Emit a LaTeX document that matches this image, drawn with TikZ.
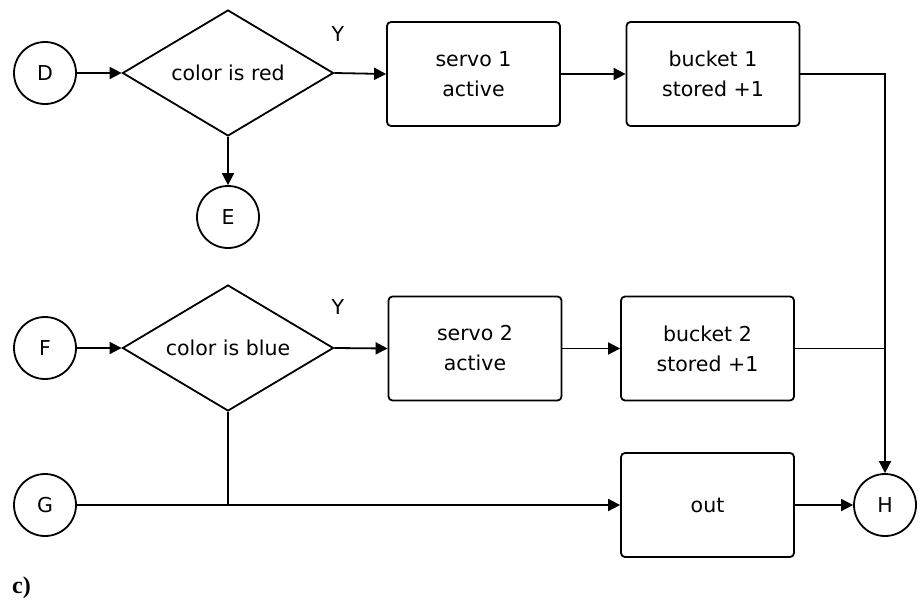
\documentclass[tikz,border=0pt]{standalone}
\usepackage{fontspec}
\setmainfont{DejaVu Sans}
\newfontfamily\capfont{Liberation Serif}
\usetikzlibrary{shapes.geometric,arrows.meta}
\tikzset{
  every picture/.style={line width=1.8pt},
  lab/.style={font=\fontsize{20.5}{30}\selectfont, align=center},
  term/.style={circle, draw, lab, minimum size=62pt, inner sep=0pt},
  decision/.style={diamond, draw, lab, aspect=1.67, inner sep=0pt,
                   minimum width=211pt, minimum height=126pt},
  stepbox/.style={rectangle, rounded corners=4pt, draw, lab, inner sep=0pt,
                  minimum width=173pt, minimum height=104pt},
  flow/.style={-{Triangle[length=12pt,width=12pt]}},
}
\begin{document}
\begin{tikzpicture}[x=1pt, y=-1pt]
  \useasboundingbox (0,0) rectangle (920,602);

  % first row: red check
  \node[term] (D) at (45,73) {D};
  \node[decision] (red) at (228,73) {color is red};
  \node[stepbox] (servoA) at (473.5,74) {servo 1\\active};
  \node[stepbox] (bucketA) at (713,74) {bucket 1\\stored +1};
  \node[term] (E) at (228,217) {E};
  \node[lab] (yA) at (338,34) {Y};

  % second row: blue check
  \node[term] (F) at (45,348) {F};
  \node[decision] (blue) at (228,348) {color is blue};
  \node[stepbox] (servoB) at (475,348.5) {servo 2\\active};
  \node[stepbox] (bucketB) at (707.5,348.5) {bucket 2\\stored +1};
  \node[lab] (yB) at (338,307) {Y};

  % third row: everything else
  \node[term] (G) at (45,505) {G};
  \node[stepbox] (out) at (707.5,505) {out};
  \node[term] (H) at (885,505) {H};

  \node[font=\capfont\bfseries\fontsize{24}{26}\selectfont, anchor=west] (cap) at (8,588) {c)};

  % connectors
  \draw[flow] (D) -- (red.west);
  \draw[flow] (red.east) -- (servoA.west);
  \draw[flow] (servoA) -- (bucketA);
  \draw[flow] (red.south) -- (E.north);
  \draw[flow] (bucketA.east) -| (H.north);

  \draw[flow] (F) -- (blue.west);
  \draw[flow] (blue.east) -- (servoB.west);
  \draw[flow] (servoB) -- (bucketB);
  \draw (bucketB.east) -- (H.north |- bucketB.east);

  \coordinate (join) at (blue.south |- G);
  \draw (blue.south) -- (join);
  \draw[flow] (G) -- (out.west);
  \draw[flow] (out) -- (H);
\end{tikzpicture}
\end{document}
